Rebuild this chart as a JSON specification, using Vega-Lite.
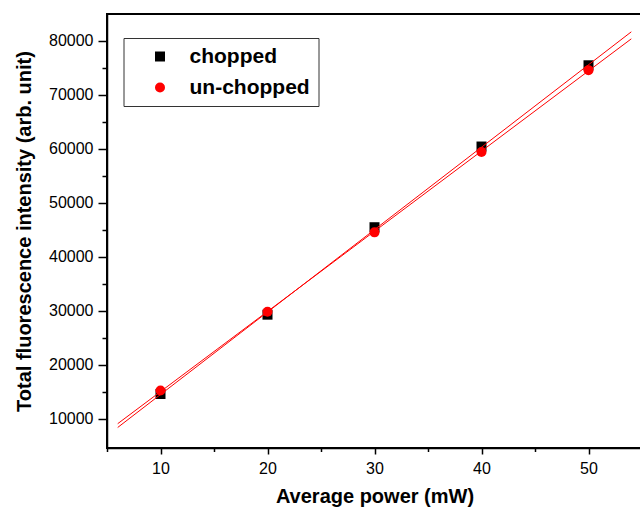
{
  "$schema": "https://vega.github.io/schema/vega-lite/v6.json",
  "width": 535,
  "height": 434,
  "autosize": {"type": "none"},
  "padding": {"left": 107, "top": 14, "right": 0, "bottom": 65},
  "background": "white",
  "config": {
    "font": "Liberation Sans",
    "view": {"stroke": "black", "strokeWidth": 2},
    "legend": {"strokeWidth": 1},
    "axis": {
      "grid": false,
      "domainColor": "black",
      "domainWidth": 1.5,
      "tickColor": "black",
      "tickWidth": 1.5,
      "labelColor": "black",
      "labelFont": "Liberation Sans",
      "labelFontSize": 16,
      "titleColor": "black",
      "titleFont": "Liberation Sans",
      "titleFontSize": 20,
      "titleFontWeight": "bold"
    }
  },
  "datasets": {
    "points": [
      {"series": "chopped", "power": 10, "intensity": 14600},
      {"series": "chopped", "power": 20, "intensity": 29300},
      {"series": "chopped", "power": 30, "intensity": 45500},
      {"series": "chopped", "power": 40, "intensity": 60450},
      {"series": "chopped", "power": 50, "intensity": 75500},
      {"series": "un-chopped", "power": 10, "intensity": 15250},
      {"series": "un-chopped", "power": 20, "intensity": 29850},
      {"series": "un-chopped", "power": 30, "intensity": 44550},
      {"series": "un-chopped", "power": 40, "intensity": 59450},
      {"series": "un-chopped", "power": 50, "intensity": 74600}
    ],
    "fits": [
      {"series": "chopped", "power": 6, "intensity": 8400},
      {"series": "chopped", "power": 54, "intensity": 81700},
      {"series": "un-chopped", "power": 6, "intensity": 9100},
      {"series": "un-chopped", "power": 54, "intensity": 80400}
    ]
  },
  "resolve": {"axis": {"y": "independent"}},
  "layer": [
    {
      "data": {"name": "points"},
      "mark": {"type": "point", "filled": true, "opacity": 1, "size": 100},
      "encoding": {
        "x": {
          "field": "power",
          "type": "quantitative",
          "scale": {"domain": [5, 55], "nice": false, "zero": false},
          "axis": {
            "title": "Average power (mW)",
            "values": [5, 10, 15, 20, 25, 30, 35, 40, 45, 50, 55],
            "labelExpr": "datum.value % 10 === 0 ? datum.label : ''",
            "tickSize": 6,
            "tickDash": {"condition": {"test": "datum.value % 10 !== 0", "value": [3.5, 20]}, "value": [20, 0]},
            "labelPadding": 6,
            "titlePadding": 10,
            "labelOverlap": false
          }
        },
        "y": {
          "field": "intensity",
          "type": "quantitative",
          "scale": {"domain": [4600, 85000], "nice": false, "zero": false},
          "axis": {
            "orient": "left",
            "title": "Total fluorescence intensity (arb. unit)",
            "values": [10000, 20000, 30000, 40000, 50000, 60000, 70000, 80000],
            "format": "d",
            "tickSize": 9,
            "labelPadding": 5,
            "titlePadding": 14,
            "labelOverlap": false
          }
        },
        "color": {
          "field": "series",
          "type": "nominal",
          "scale": {"domain": ["chopped", "un-chopped"], "range": ["#000000", "#ff0000"]},
          "legend": {
            "title": null,
            "orient": "none",
            "legendX": 16.5,
            "legendY": 24,
            "strokeColor": "#333333",
            "fillColor": "white",
            "padding": 8,
            "symbolOffset": 18,
            "labelOffset": 19,
            "symbolSize": 100,
            "labelFontSize": 21,
            "labelFontWeight": "bold",
            "labelColor": "black",
            "rowPadding": 9
          }
        },
        "shape": {
          "field": "series",
          "type": "nominal",
          "scale": {"domain": ["chopped", "un-chopped"], "range": ["square", "circle"]}
        }
      }
    },
    {
      "data": {"name": "fits"},
      "mark": {"type": "line", "color": "#ff0000", "strokeWidth": 1},
      "encoding": {
        "x": {"field": "power", "type": "quantitative"},
        "y": {
          "field": "intensity",
          "type": "quantitative",
          "axis": {
            "orient": "left",
            "title": null,
            "labels": false,
            "domain": false,
            "values": [15000, 25000, 35000, 45000, 55000, 65000, 75000],
            "tickSize": 5
          }
        },
        "detail": {"field": "series", "type": "nominal"}
      }
    }
  ]
}
